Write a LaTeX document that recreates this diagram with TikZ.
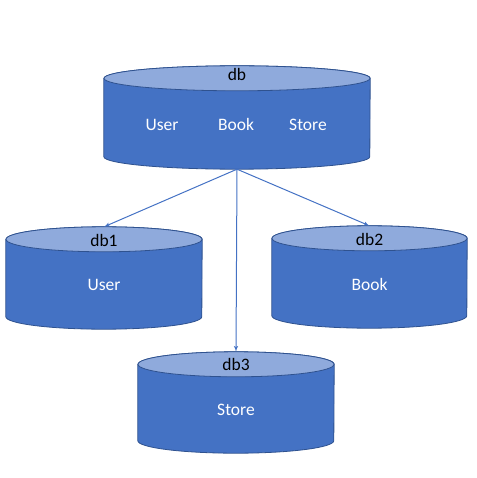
\documentclass[tikz,border=0pt]{standalone}
\usepackage{fontspec}
\setmainfont{Carlito}
\definecolor{dbblue}{HTML}{4472C4}
\definecolor{dbtop}{HTML}{8FAADC}
\definecolor{dbedge}{HTML}{2F528F}
\usetikzlibrary{shapes,arrows}
\tikzstyle{dbbox} = [rectangle, inner sep=0pt]
\tikzstyle{cylbody} = [draw=dbedge, fill=dbblue, line width=0.8pt]
\tikzstyle{cyltop} = [draw=dbedge, fill=dbtop, line width=0.8pt]
\tikzstyle{dbtitle} = [text=black, font=\fontsize{17.5}{21}\selectfont,
    text height=11.5pt, text depth=0pt, inner sep=0pt]
\tikzstyle{tbltext} = [text=white, font=\fontsize{17.5}{21}\selectfont,
    text height=11.5pt, text depth=0pt, inner sep=0pt]
\tikzstyle{line} = [draw=dbblue, line width=1pt, -latex']
% cylinder round a box node: #1 node, #2 x radius
\newcommand{\drawcyl}[2]{%
  \path [cylbody] ([yshift=-12.5pt]#1.north west) -- ([yshift=12.5pt]#1.south west)
    arc[start angle=180, end angle=360, x radius=#2pt, y radius=12.5pt]
    -- ([yshift=-12.5pt]#1.north east)
    arc[start angle=0, end angle=180, x radius=#2pt, y radius=12.5pt] -- cycle;
  \path [cyltop] ([yshift=-12.5pt]#1.north) ellipse[x radius=#2pt, y radius=12.5pt];
}

\begin{document}
\begin{tikzpicture}[x=1pt, y=-1pt]
  \useasboundingbox (0,0) rectangle (476,478);
  \node [dbbox, minimum width=266pt, minimum height=103pt] (db) at (237,117.5) {};
  \drawcyl{db}{133}
  \node [dbtitle] (db_name) at (237,75) {db};
  \node [tbltext] (db_user) at (162,124.3) {User};
  \node [tbltext] (db_book) at (236,124.3) {Book};
  \node [tbltext] (db_store) at (308,124.3) {Store};
  \node [dbbox, minimum width=196pt, minimum height=102pt] (db1) at (104,278) {};
  \drawcyl{db1}{98}
  \node [dbtitle] (db1_name) at (104,240.3) {db1};
  \node [tbltext] (db1_user) at (104,284.3) {User};
  \node [dbbox, minimum width=195pt, minimum height=102pt] (db2) at (369.5,277) {};
  \drawcyl{db2}{97.5}
  \node [dbtitle] (db2_name) at (369.5,239.6) {db2};
  \node [tbltext] (db2_book) at (369.5,284.3) {Book};
  \node [dbbox, minimum width=196pt, minimum height=101pt] (db3) at (236,402.5) {};
  \drawcyl{db3}{98}
  \node [dbtitle] (db3_name) at (236,365) {db3};
  \node [tbltext] (db3_store) at (236,409.3) {Store};
  \path [line] (db.south) -- (db1.north);
  \path [line] (db.south) -- (db2.north);
  \path [line] (db.south) -- (db3.north);
\end{tikzpicture}
\end{document}
